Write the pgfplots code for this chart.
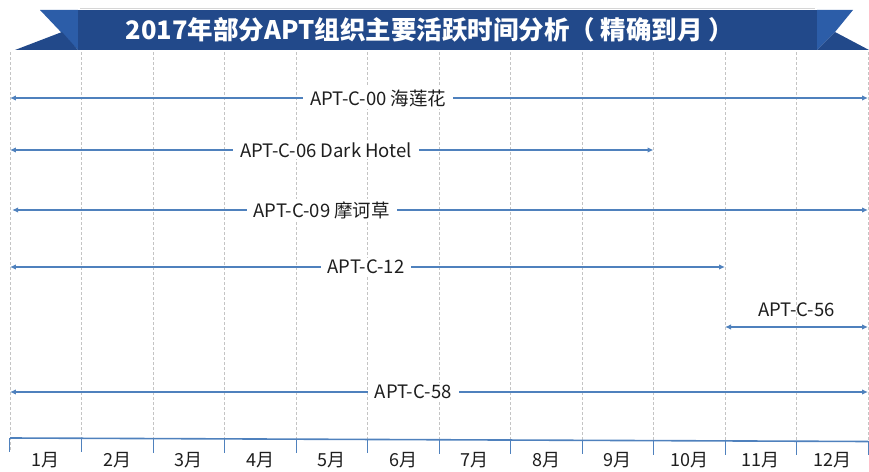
\documentclass[border=0pt]{standalone}
\usepackage{pgfplots}
\pgfplotsset{compat=1.18}
\usetikzlibrary{arrows.meta}
\usepackage{fontspec}
\setmainfont{Noto Sans CJK SC}

\definecolor{arrowblue}{HTML}{4F81BD}
\definecolor{bannerdark}{HTML}{22498A}
\definecolor{bannerlight}{HTML}{2C5DA8}
\definecolor{gridgray}{HTML}{C4C4C4}
\definecolor{labeltext}{HTML}{1E1E1E}

\tikzset{
  spanline/.style={arrowblue, line width=1.7pt,
    {Latex[length=6pt,width=5.5pt]}-{Latex[length=6pt,width=5.5pt]}},
  spanlabel/.style={fill=white, inner xsep=7pt, inner ysep=2pt, text=labeltext,
    font=\fontsize{18.5}{18.5}\selectfont},
}

\begin{document}
\begin{tikzpicture}[x=1pt,y=1pt]
% page frame; the axis box sits with its lower-left corner at the origin
\path[use as bounding box] (-10,-21) rectangle (859,450);

\begin{scope}[shift={(-10,-21)}]
% title ribbon
\fill[bannerlight] (40,461) -- (78,461) -- (78,421) -- cycle;
\fill[bannerdark] (15,421) -- (62,439) -- (78,421) -- cycle;
\fill[bannerdark] (78,421) rectangle (817,461);
\fill[bannerlight] (817,461) -- (853,461) -- (835,439) -- (817,421) -- cycle;
\fill[bannerdark] (835,439) -- (869,421) -- (817,421) -- cycle;
\draw[gridgray!70, line width=0.6pt] (80,462.5) -- (815,462.5);
\node[text=white, font=\bfseries\fontsize{25.5}{25.5}\selectfont] at (430,441)
  {2017年部分APT组织主要活跃时间分析（ 精确到月 ）};
\end{scope}

\begin{axis}[
  scale only axis, width=858pt, height=398pt,
  xmin=0, xmax=12, ymin=21, ymax=419,
  clip=false,
  axis line style={draw=none},
  xtick={0.5,1.5,...,11.5},
  xticklabels={1月,2月,3月,4月,5月,6月,7月,8月,9月,10月,11月,12月},
  minor xtick={0,1,...,12},
  xminorgrids,
  minor grid style={gridgray, line width=0.6pt, dash pattern=on 3pt off 2pt},
  major tick length=0pt, minor tick length=0pt,
  ytick=\empty,
  xticklabel style={text=labeltext, font=\fontsize{18}{18}\selectfont, yshift=1pt},
]

% month baseline with tick marks at month boundaries
\addplot[arrowblue, line width=1.6pt] coordinates {(0,33) (12,29.5)};
\pgfplotsinvokeforeach{0,1,...,12}{
  \draw[arrowblue, line width=1pt] (axis cs:#1,{33-#1*0.29}) -- ++(0,7pt);
}

% activity spans (start month boundary, end month boundary)
\addplot[spanline] coordinates {(0,373) (12,373)};
\addplot[spanline] coordinates {(0,321) (9,321)};
\addplot[spanline] coordinates {(0.03,261) (12,261)};
\addplot[spanline] coordinates {(0,204) (10,204)};
\addplot[spanline] coordinates {(10,144) (12,144)};
\addplot[spanline] coordinates {(0,79) (12,79)};

\node[spanlabel] at (axis cs:5.15,373) {APT-C-00 海莲花};
\node[spanlabel] at (axis cs:4.42,321) {APT-C-06 Dark Hotel};
\node[spanlabel] at (axis cs:4.36,261) {APT-C-09 摩诃草};
\node[spanlabel] at (axis cs:4.98,204) {APT-C-12};
\node[spanlabel, fill=none] at (axis cs:11.0,161) {APT-C-56};
\node[spanlabel] at (axis cs:5.64,79) {APT-C-58};
\end{axis}
\end{tikzpicture}
\end{document}
